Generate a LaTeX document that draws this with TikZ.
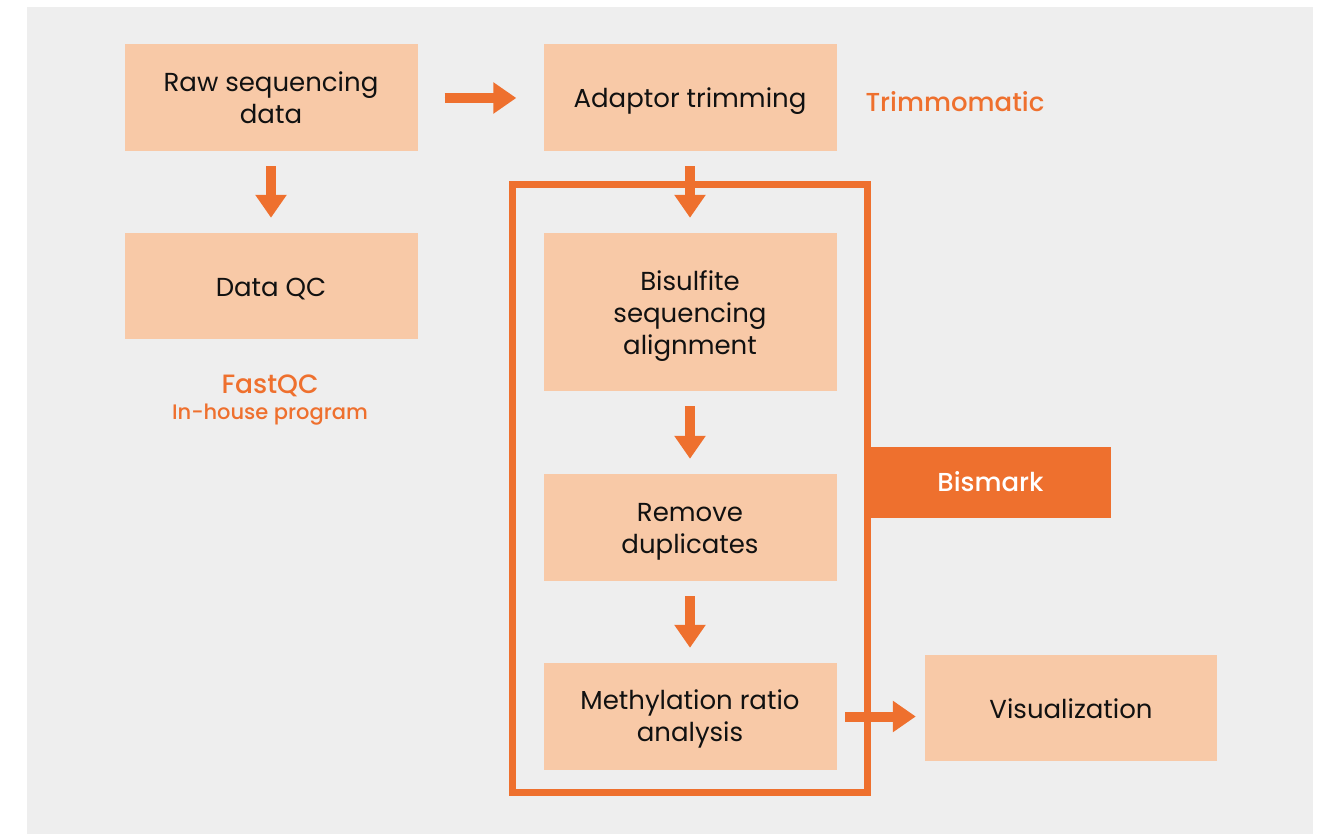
\documentclass[tikz,border=0pt]{standalone}
\usepackage{fontspec}
\setmainfont{Poppins}
\newfontfamily\pmed{Poppins}[UprightFont=* Medium]
\usetikzlibrary{arrows.meta}
\definecolor{bggray}{HTML}{EEEEEE}
\definecolor{peach}{HTML}{F8C9A7}
\definecolor{orng}{HTML}{EE702E}
\definecolor{txt}{HTML}{111111}
\tikzset{
  stepbox/.style={rectangle, fill=peach, draw=none, inner sep=0pt, minimum width=293pt},
  steptext/.style={inner sep=0pt, align=center, text=txt, font=\fontsize{26}{32}\selectfont},
  flow/.style={draw=orng, line width=10pt,
    -{Triangle[width=30pt,length=23pt]}, fill=orng},
  tool/.style={text=orng, font=\pmed\fontsize{26}{30}\selectfont},
}
\begin{document}
\begin{tikzpicture}[x=1pt,y=-1pt]
\useasboundingbox (0,0) rectangle (1325,834);
\fill[white] (0,0) rectangle (1325,834);
\fill[bggray] (27,7) rectangle (1313,834);

\node[stepbox, minimum height=107pt, label={[steptext]center:{Raw sequencing\\data}}] (raw) at (271,97.5) {};
\node[stepbox, minimum height=107pt, label={[steptext,yshift=-4pt]center:{Adaptor trimming}}] (adapt) at (690,97.5) {};
\node[stepbox, minimum height=106pt, label={[steptext,yshift=-3pt]center:{Data QC}}] (qc) at (271,286) {};
\node[stepbox, minimum height=158pt, label={[steptext,yshift=-4pt]center:{Bisulfite\\sequencing\\alignment}}] (bis) at (690,312) {};
\node[stepbox, minimum height=107pt, label={[steptext,yshift=-4pt]center:{Remove\\duplicates}}] (rem) at (690,527.5) {};
\node[stepbox, minimum height=107pt, label={[steptext,yshift=-2.5pt]center:{Methylation ratio\\analysis}}] (meth) at (690,716.5) {};
\node[stepbox, minimum height=106pt, minimum width=292pt, label={[steptext,yshift=-1pt]center:{Visualization}}] (vis) at (1071,708) {};

\node[tool] (trim) at (955,102) {Trimmomatic};
\node[tool, font=\pmed\fontsize{26.5}{30}\selectfont] (fastqc) at (270,386) {FastQC};
\node[text=orng, font=\pmed\fontsize{21}{24}\selectfont] (inhouse) at (270,415) {In-house program};

\draw[orng, line width=7pt] (512.5,184.7) rectangle (867.7,792);
\node[rectangle, fill=orng, inner sep=0pt, minimum width=241pt, minimum height=71pt,
  text=white, font=\pmed\fontsize{26}{30}\selectfont] (bismark) at (990.5,482) {Bismark};

\draw[flow, shorten <=27pt, shorten >=27pt] (raw.east |- 0,98) -- (adapt.west |- 0,98);
\draw[flow, shorten <=15pt, shorten >=15pt] (raw.south) -- (qc.north);
\draw[flow, shorten <=15pt, shorten >=15pt] (adapt.south) -- (bis.north);
\draw[flow, shorten <=15pt, shorten >=15pt] (bis.south) -- (rem.north);
\draw[flow, shorten <=15pt, shorten >=15pt] (rem.south) -- (meth.north);
\draw[flow, shorten <=8.5pt, shorten >=9pt] (meth.east) -- (meth.east -| vis.west);
\end{tikzpicture}
\end{document}
